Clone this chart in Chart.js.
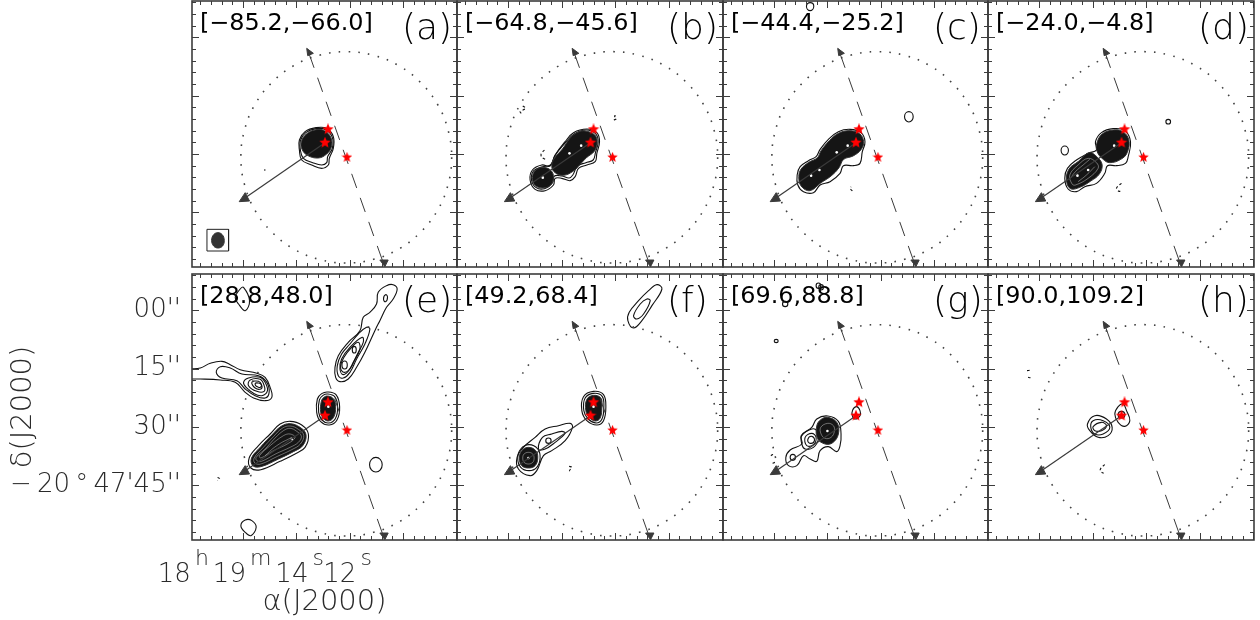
<!DOCTYPE html>
<html><head><meta charset="utf-8">
<style>html,body{margin:0;padding:0;background:#fff;width:1260px;height:620px;overflow:hidden}canvas{position:absolute}</style>
<script src="https://cdn.jsdelivr.net/npm/chart.js@4"></script>
</head><body>
<script>
// Velocity ranges and panel letters
const panelRanges=["[−85.2,−66.0]","[−64.8,−45.6]","[−44.4,−25.2]","[−24.0,−4.8]","[28.8,48.0]","[49.2,68.4]","[69.6,88.8]","[90.0,109.2]"];
const panelLetters=["(a)","(b)","(c)","(d)","(e)","(f)","(g)","(h)"];
// Axis labels, sky grid units (1 unit = 1/11.7 arcsec)
const yTickLabels={109:"00''",284:"15''",459:"30''",634:"−\u200920\u2009°\u200947'45''"};
const xTickParts={153:[["18",0],["h",1],["19",0],["m",1],["14",0],["s",1]],474:[["12",0],["s",1]]};
const xTitle="α(J2000)", yTitle="δ(J2000)";
// Features common to all panels
const primaryBeam=[781,469,770,551,739,627,688,693,622,744,546,775,464,786,382,775,306,744,240,693,189,627,158,551,147,469,158,387,189,311,240,245,306,194,382,163,464,152,546,163,622,194,688,245,739,311,770,387,781,469];
const outflowAxis=[400,425,158,592];
const outflowHead=[142,602,160,575,173,600,142,602];
const perpAxis=[352,158,574,782];
const perpHeadTop=[345,142,365,157,348,164,345,142];
const perpHeadBottom=[580,797,565,777,590,777,580,797];
const sources=[[409,385],[400,425],[466,469]];
// Synthesized beam (panel a)
const beamBox=[50,688,115,688,115,753,50,753,50,688];
const beamEllipse=[83,698,96,704,102,721,97,738,83,744,70,738,64,721,70,704,83,698];
// Panel a
const contoursA=[[378,383,410,385,430,410,430,445,418,475,415,495,395,505,365,495,335,480,328,450,328,420,345,395,378,383],[378,386,407,389,427,412,427,445,413,470,410,488,395,495,368,488,340,475,331,450,331,422,347,398,378,386]];
const fillsA=[[378,389,403,392,423,413,424,442,410,462,385,474,352,466,336,448,334,425,349,402,378,389]];
const dashesA=[[224,508,224,512]];
const whiteA=[];const dotsA=[];
// Panel b
const contoursB=[[395,387,425,398,433,425,425,460,420,485,395,495,370,505,360,530,345,542,320,535,300,535,295,555,270,572,240,568,225,540,232,510,260,495,285,498,300,465,330,425,355,398,395,387],[393,390,421,401,429,425,421,457,414,480,392,488,367,498,353,525,342,534,320,528,298,528,292,548,268,566,242,562,229,538,236,512,262,500,286,495,300,466,331,428,357,402,393,390]];
const fillsB=[[390,393,418,404,426,425,418,453,394,473,375,493,355,513,325,526,300,518,290,500,297,476,322,447,347,412,370,396,390,393],[263,502,288,512,295,533,286,556,263,564,240,556,232,533,240,512,263,502]];
const dashesB=[[268,450,258,462,260,472,275,480],[203,318,212,325,195,335,200,342],[476,360,484,356,478,348,485,346]];
const whiteB=[];const dotsB=[[263,533],[343,460],[378,437]];
// Panel c
const contoursC=[[385,388,418,398,430,425,422,455,415,490,395,497,365,497,355,520,325,545,295,555,275,578,245,575,228,555,226,525,235,500,260,482,283,470,295,448,320,418,350,395,385,388],[562,335,575,350,562,366,549,350,562,335],[265,8,276,19,265,32,254,19,265,8]];
const fillsC=[[385,392,414,401,426,425,418,449,394,468,366,478,352,503,328,528,298,548,264,572,238,558,231,530,238,507,261,487,287,473,298,452,323,422,352,399,385,392]];
const dashesC=[[392,573,385,565,388,560]];
const whiteC=[];const dotsC=[[268,527],[293,510],[345,457],[378,437]];
// Panel d
const contoursD=[[375,386,410,392,427,425,420,470,412,490,385,497,358,497,350,520,325,550,290,560,265,575,240,567,230,535,238,505,265,480,300,460,325,450,322,425,340,398,375,386],[230,438,241,451,230,465,219,451,230,438],[540,358,547,365,540,372,533,365,540,358]];
const fillsD=[[375,390,404,395,422,420,417,458,398,478,365,488,345,478,327,455,326,430,342,402,375,390],[303,458,328,472,342,495,333,523,308,543,275,562,247,566,235,540,243,507,271,484,303,458]];
const dashesD=[[400,550,392,556,385,565,392,574,400,572]];
const whiteD=[[247,535,262,515,285,495,305,478],[270,545,295,525,320,500],[262,555,300,535,330,505,325,488,300,475,270,495,245,525,252,552,262,555]];
const dotsD=[[300,510],[378,437],[268,527]];
// Panel e
const contoursE=[[610,42,622,55,610,85,590,110,570,150,555,180,525,245,500,290,475,325,450,333,437,320,435,290,445,255,475,215,510,180,520,140,540,125,560,100,565,65,590,45,610,42],[587,72,593,80,587,93,581,85,587,72],[530,170,540,175,525,220,500,265,480,305,460,322,445,315,442,285,455,250,480,220,505,190,530,170],[517,200,520,215,500,255,480,295,460,312,450,295,455,265,480,230,517,200],[505,215,510,235,490,275,475,300,458,303,452,285,462,260,485,230,505,215],[493,227,499,237,493,247,487,237,493,227],[464,271,472,283,464,295,456,283,464,271],
[0,295,30,292,60,278,95,272,120,282,150,297,200,308,225,320,240,350,245,380,225,390,190,382,165,365,135,335,90,328,30,325,0,325],[90,288,120,292,155,310,205,315,230,335,237,365,225,382,195,375,165,355,140,330,95,322,78,305,90,288],[175,322,210,320,225,335,232,360,215,375,190,368,168,350,160,335,175,322],[180,328,210,326,222,345,222,362,200,362,175,345,180,328],[185,335,205,332,215,345,212,355,195,352,185,335],[195,339,208,338,214,346,205,350,195,339],
[413,364,438,372,449,408,441,448,418,463,392,453,380,425,382,385,395,369,413,364],[413,370,434,378,443,408,436,444,416,457,396,448,386,425,388,388,399,374,413,370],
[300,452,335,463,355,490,345,530,315,550,270,572,212,597,182,592,177,562,205,525,240,490,270,460,300,452],
[558,560,577,582,558,604,539,582,558,560],[165,748,185,750,198,770,182,795,165,785,152,765,165,748],[160,50,178,90,165,120,145,100,135,80,150,55,160,50]];
const fillsE=[[413,376,430,384,437,408,431,440,415,451,400,443,392,425,394,392,402,380,413,376],[300,459,330,470,348,492,338,525,310,543,265,565,212,588,188,585,184,562,212,528,245,493,273,467,300,459]];
const dashesE=[[82,620,88,624,82,630]];
const whiteE=[[300,466,325,476,341,494,331,520,305,537,262,557,212,580,194,577,192,562,218,532,250,498,276,473,300,466],[300,473,320,482,334,497,325,515,300,530,258,549,214,572,200,570,198,560,225,535,255,502,280,480,300,473],[225,555,260,525,305,500],[300,490,315,500,295,518,250,540,212,562,208,555,240,525,280,495,300,490]];
const dotsE=[[415,408],[205,343],[305,505]];
// Panel f
const contoursF=[[605,42,620,55,590,105,560,150,535,172,518,150,522,125,550,90,580,60,605,42],[575,85,585,90,565,130,545,145,535,135,555,100,575,85],
[415,362,445,372,452,410,445,450,425,463,395,450,380,420,385,378,415,362],[415,368,441,377,446,410,440,446,423,457,399,445,386,420,390,382,415,368],
[345,458,352,470,330,510,290,540,265,555,245,600,225,615,190,595,186,560,205,530,240,500,270,475,310,465,345,458],[320,482,330,488,300,515,270,535,250,535,262,500,290,490,320,482],[280,502,288,510,280,518,272,510,280,502],[222,522,248,535,255,562,245,590,222,600,197,590,188,562,197,535,222,522]];
const fillsF=[[415,374,437,382,440,410,435,442,421,451,403,441,392,420,395,386,415,374],[220,530,242,540,248,562,240,585,220,592,200,585,193,562,200,540,220,530]];
const dashesF=[[342,587,350,590,343,600,350,602]];
const whiteF=[[220,545,233,550,237,562,233,575,220,580,207,575,203,562,207,550,220,545]];
const dotsF=[[220,562],[415,408]];
// Panel g
const contoursG=[[318,436,350,452,358,490,355,525,345,543,320,528,295,540,285,572,265,565,245,555,225,585,200,585,192,560,205,538,240,520,238,495,270,470,285,445,318,436],[240,495,270,475,285,480,290,505,275,530,250,535,240,520,240,495],[250,500,270,488,283,500,275,522,255,525,250,500],[258,507,270,497,278,510,265,518,258,507],[213,551,221,560,213,569,205,560,213,551],[405,408,415,420,415,435,400,445,392,435,393,418,405,408],[190,92,198,100,190,108,182,100,190,92],[290,37,297,45,290,53,283,45,290,37],[298,42,305,50,298,58,291,50,298,42],[163,206,169,211,163,216,157,211,163,206]];
const fillsG=[[318,440,346,456,350,490,333,516,310,520,287,503,285,466,297,447,318,440]];
const dashesG=[[147,555,152,552,160,556],[152,578,160,575,165,578]];
const whiteG=[[318,458,335,465,338,482,328,500,310,503,298,490,297,470,318,458]];
const dotsG=[[317,481],[267,510]];
// Panel h
const contoursH=[[320,435,355,445,372,470,360,495,330,500,305,480,298,460,320,435],[315,450,345,450,365,470,345,490,320,490,308,470,315,450],[340,455,355,465,340,480,320,480,315,468,340,455],[405,400,415,420,425,450,410,467,390,455,380,430,390,408,405,400],[400,422,410,432,400,442,390,432,400,422]];
const fillsH=[];
const dashesH=[[117,300,125,299],[120,320,130,322],[350,582,340,590,336,600,345,607,352,605]];
const whiteH=[];const dotsH=[];

const panels=[
 {c:contoursA,f:fillsA,d:dashesA,w:whiteA,p:dotsA,ox:5,oy:3},
 {c:contoursB,f:fillsB,d:dashesB,w:whiteB,p:dotsB,ox:6,oy:3},
 {c:contoursC,f:fillsC,d:dashesC,w:whiteC,p:dotsC,ox:3,oy:3},
 {c:contoursD,f:fillsD,d:dashesD,w:whiteD,p:dotsD,ox:0,oy:3},
 {c:contoursE,f:fillsE,d:dashesE,w:whiteE,p:dotsE,ox:5,oy:10},
 {c:contoursF,f:fillsF,d:dashesF,w:whiteF,p:dotsF,ox:6,oy:10},
 {c:contoursG,f:fillsG,d:dashesG,w:whiteG,p:dotsG,ox:3,oy:10},
 {c:contoursH,f:fillsH,d:dashesH,w:whiteH,p:dotsH,ox:0,oy:10}
];
const LEFT=[192,457,723,988,192,457,723,988], RIGHT=[457,723,988,1254,457,723,988,1254], TOP=[1,1,1,1,274,274,274,274], H=266;
const AXIS='#3c3c3c', LABEL='#2a2a2a', TEXTFONT='"DejaVu Sans"';

// closed outlines are wrapped one point each way so the spline has no cusp at the join;
// the two helper segments are not stroked
function pts(flat,ox,oy){const o=[];for(let i=0;i<flat.length;i+=2)o.push({x:flat[i]-ox,y:flat[i+1]-oy});
 const n=o.length;if(n>4&&o[0].x===o[n-1].x&&o[0].y===o[n-1].y){const r=[o[n-2],...o,o[1]];r.wrapped=true;return r;}return o;}
const xMaj=[],xMin=[],yMaj=[],yMin=[];
for(let i=0;i<25;i++){const v=24.6+32.1*i;if(v<797)((i%5)==4?xMaj:xMin).push(+v.toFixed(1));}
for(let i=0;i<23;i++){const v=4+35*i;if(v<798)((i%5)==3?yMaj:yMin).push(v);}

function starImage(size,color){const c=document.createElement('canvas');c.width=c.height=size;const g=c.getContext('2d');g.fillStyle=color;g.beginPath();
 for(let i=0;i<10;i++){const r=(i%2?0.22:0.5)*size,a=-Math.PI/2+i*Math.PI/5;g.lineTo(size/2+r*Math.cos(a),size/2+r*Math.sin(a));}g.closePath();g.fill();return c;}

function line(data,opt){const d=Object.assign({type:'line',data,pointRadius:0,pointHoverRadius:0,borderColor:'#111',borderWidth:1.1,tension:data.length<=7?0.55:0.4,fill:false},opt||{});
 if(data.wrapped){const n=data.length;d.segment={borderColor:c=>(c.p0DataIndex===0||c.p1DataIndex===n-1)?'rgba(0,0,0,0)':undefined};}
 return d;}

function wide(g,txt,x,y,sx){g.save();g.translate(x,y);g.scale(sx,1);g.fillText(txt,0,0);g.restore();}
const framePlugin={id:'frame',
 beforeDatasetsDraw(ch){const a=ch.chartArea,g=ch.ctx,i=ch.options.panelIndex;g.save();g.fillStyle='#000';g.textBaseline='alphabetic';g.textAlign='left';
  g.font='400 23px '+TEXTFONT;wide(g,panelRanges[i],a.left+8,a.top+29,1.04);
  g.font='200 36px '+TEXTFONT;wide(g,panelLetters[i],a.left+210,a.top+38,1.0);g.restore();},
 afterDatasetsDraw(ch){const a=ch.chartArea,g=ch.ctx,sx=ch.scales.x,sy=ch.scales.y;g.save();g.strokeStyle=AXIS;g.lineWidth=1;g.beginPath();
  const tx=(v,l)=>{const p=Math.round(sx.getPixelForValue(v))+.5;g.moveTo(p,a.bottom);g.lineTo(p,a.bottom-l);g.moveTo(p,a.top);g.lineTo(p,a.top+l);};
  const ty=(v,l)=>{const p=Math.round(sy.getPixelForValue(v))+.5;g.moveTo(a.left,p);g.lineTo(a.left+l,p);g.moveTo(a.right,p);g.lineTo(a.right-l,p);};
  xMin.forEach(v=>tx(v,4));xMaj.forEach(v=>tx(v,7));yMin.forEach(v=>ty(v,4));yMaj.forEach(v=>ty(v,7));g.stroke();
  g.lineWidth=1.6;g.strokeRect(a.left,a.top,a.right-a.left,a.bottom-a.top);g.restore();
  if(ch.options.panelIndex===4){g.save();g.fillStyle=LABEL;g.textBaseline='alphabetic';g.textAlign='left';
   const BIG='200 26px '+TEXTFONT,SMALL='200 22px '+TEXTFONT;
   Object.keys(xTickParts).forEach(k=>{const parts=xTickParts[k];let w=0;
    parts.forEach(p=>{g.font=p[1]?SMALL:BIG;w+=g.measureText(p[0]).width+4;});
    let x=sx.getPixelForValue(+k)-w/2;
    parts.forEach(p=>{g.font=p[1]?SMALL:BIG;g.fillText(p[0],x,a.bottom+(p[1]?25:42));x+=g.measureText(p[0]).width+4;});});
   g.restore();}}
};
function noPad(s){s.paddingTop=0;s.paddingBottom=0;s.paddingLeft=0;s.paddingRight=0;}

panels.forEach((P,i)=>{
 const cv=document.createElement('canvas');const labelled=i===4;
 const L=LEFT[i],R=RIGHT[i],T=TOP[i];
 const left=labelled?0:L-2, top=T-2, w=R+2-left, h=labelled?620-top:H+4;
 cv.width=w;cv.height=h;cv.style.left=left+'px';cv.style.top=top+'px';cv.style.width=w+'px';cv.style.height=h+'px';document.body.appendChild(cv);
 const ds=[];
 P.c.forEach(c=>ds.push(line(pts(c,P.ox,P.oy))));
 P.f.forEach(f=>ds.push(line(pts(f,P.ox,P.oy),{fill:'shape',backgroundColor:'#151515',borderColor:'#333',borderWidth:1})));
 P.w.forEach(f=>ds.push(line(pts(f,P.ox,P.oy),{borderColor:'rgba(255,255,255,.55)',borderWidth:.7})));
 P.d.forEach(f=>ds.push(line(pts(f,P.ox,P.oy),{borderDash:[2.5,2.5],tension:.3})));
 if(P.p.length)ds.push({type:'scatter',data:P.p.map(q=>({x:q[0]-P.ox,y:q[1]-P.oy})),pointRadius:1.3,pointBackgroundColor:'#fff',pointBorderWidth:0,showLine:false});
 ds.push(line(pts(primaryBeam,0,0),{borderColor:'#444',borderWidth:1.6,borderDash:[1.6,8.2],tension:.4}));
 ds.push(line(pts(outflowAxis,0,0),{borderColor:'#3a3a3a',borderWidth:1.2,tension:0}));
 ds.push(line(outflowHead&&pts(outflowHead,0,0),{borderColor:'#3a3a3a',borderWidth:1,tension:0,fill:'shape',backgroundColor:'#3a3a3a'}));
 ds.push(line(pts(perpAxis,0,0),{borderColor:'#3a3a3a',borderWidth:1,tension:0,borderDash:[15,10.5]}));
 ds.push(line(pts(perpHeadTop,0,0),{borderColor:'#3a3a3a',borderWidth:1,tension:0,fill:'shape',backgroundColor:'#3a3a3a'}));
 ds.push(line(pts(perpHeadBottom,0,0),{borderColor:'#3a3a3a',borderWidth:1,tension:0,fill:'shape',backgroundColor:'#3a3a3a'}));
 if(i===0){ds.push(line(pts(beamBox,P.ox,P.oy),{borderColor:'#222',borderWidth:1,tension:0}));
  ds.push(line(pts(beamEllipse,P.ox,P.oy),{borderColor:'#333',borderWidth:1,fill:'shape',backgroundColor:'#333'}));}
 const starA=starImage(12,'#f00'),starB=starImage(11,'#f00');
 ds.push({type:'scatter',data:sources.map(s=>({x:s[0],y:s[1]})),pointStyle:[starA,starA,starB],showLine:false,pointRadius:5});
 ds.forEach((d,k)=>{d.order=-k;});
 new Chart(cv,{type:'line',data:{datasets:ds},plugins:[framePlugin],options:{
  panelIndex:i,responsive:false,animation:false,devicePixelRatio:1,events:[],
  layout:{autoPadding:false,padding:labelled?{left:0,top:2,right:2,bottom:0}:2},
  plugins:{legend:{display:false},tooltip:{enabled:false}},
  scales:{
   x:{type:'linear',min:0,max:797,display:labelled,grid:{display:false,drawTicks:false},border:{display:false},
    afterBuildTicks(s){s.ticks=xMaj.map(v=>({value:v}));},
    afterFit(s){noPad(s);if(labelled)s.height=80;},
    ticks:{display:false},
    title:{display:labelled,text:xTitle,color:LABEL,font:{family:TEXTFONT,size:29,weight:200},padding:{top:0,bottom:0}}},
   y:{type:'linear',min:0,max:798,reverse:true,display:labelled,grid:{display:false,drawTicks:false},border:{display:false},
    afterBuildTicks(s){s.ticks=yMaj.map(v=>({value:v}));},
    afterFit(s){noPad(s);if(labelled)s.width=192;},
    ticks:{autoSkip:false,padding:11,color:LABEL,font:{family:TEXTFONT,size:26,weight:200},callback:v=>yTickLabels[v]||''},
    title:{display:labelled,text:yTitle,color:LABEL,font:{family:TEXTFONT,size:29,weight:200},padding:{top:6,bottom:0}}}
  }}});
});
</script>
</body></html>
